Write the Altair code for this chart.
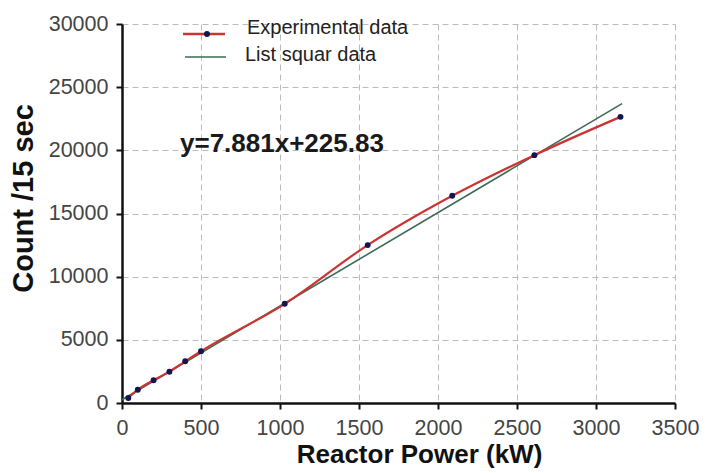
import altair as alt
import pandas as pd

# Experimental data (Reactor power kW, counts per 15 s)
exp_power = [40, 100, 200, 300, 400, 500, 1030, 1555, 2090, 2610, 3155]
exp_count = [400, 1050, 1800, 2480, 3300, 4100, 7850, 12500, 16400, 19620, 22650]

# Least-squares line endpoints as drawn
fit_power = [0, 3165]
fit_count = [260, 23700]

x_ticks = [0, 500, 1000, 1500, 2000, 2500, 3000, 3500]
y_ticks = [0, 5000, 10000, 15000, 20000, 25000, 30000]

legend_labels = ["Experimental data", "List squar data"]
equation = "y=7.881x+225.83"

exp_df = pd.DataFrame({"power": exp_power, "count": exp_count})
fit_df = pd.DataFrame({"power": fit_power, "count": fit_count})

FONT = "Liberation Sans"
RED = "#cc3333"
GREEN = "#3d6b52"
NAVY = "#141450"

xs = alt.Scale(domain=[0, 3500], nice=False)
ys = alt.Scale(domain=[0, 30000], nice=False)

xax = alt.Axis(values=x_ticks, format="d", title="Reactor Power (kW)",
               grid=True, gridDash=[6, 4], gridColor="#bbbbbb",
               domainColor="#111111", domainWidth=2.5, tickColor="#111111",
               tickSize=6, tickWidth=2, labelFontSize=21.5, labelColor="#444444",
               labelFont=FONT, labelPadding=8, titleFont=FONT,
               titleFontSize=26, titleFontWeight="bold", titleColor="#111111",
               titlePadding=3, titleX=297, titleAlign="center", labelFlush=False)
yax = alt.Axis(values=y_ticks, format="d", title="Count /15 sec",
               grid=True, gridDash=[6, 4], gridColor="#bbbbbb",
               domainColor="#111111", domainWidth=2.5, tickColor="#111111",
               tickSize=6, tickWidth=2, labelFontSize=21.5, labelColor="#444444",
               labelFont=FONT, labelPadding=8, titleFont=FONT,
               titleFontSize=29, titleFontWeight="bold", titleColor="#111111",
               titlePadding=10, titleY=174, titleAlign="center", labelFlush=False)

fit_line = alt.Chart(fit_df).mark_line(color=GREEN, strokeWidth=1.6).encode(
    x=alt.X("power:Q", scale=xs, axis=xax),
    y=alt.Y("count:Q", scale=ys, axis=yax),
)

exp_line = alt.Chart(exp_df).mark_line(color=RED, strokeWidth=2.2, interpolate="monotone").encode(
    x=alt.X("power:Q", scale=xs),
    y=alt.Y("count:Q", scale=ys),
)

exp_pts = alt.Chart(exp_df).mark_point(filled=True, color=NAVY, size=35, opacity=1).encode(
    x=alt.X("power:Q", scale=xs),
    y=alt.Y("count:Q", scale=ys),
)

leg_df = pd.DataFrame({"label": legend_labels})

leg_red = alt.Chart(leg_df.iloc[[0]]).mark_rule(color=RED, strokeWidth=2.5).encode(
    x=alt.value(61), x2=alt.value(103), y=alt.value(10))
leg_dot = alt.Chart(leg_df.iloc[[0]]).mark_point(filled=True, color=NAVY, size=35, opacity=1).encode(
    x=alt.value(85), y=alt.value(10))
leg_green = alt.Chart(leg_df.iloc[[1]]).mark_rule(color=GREEN, strokeWidth=1.6).encode(
    x=alt.value(63), x2=alt.value(104), y=alt.value(33))
leg_t1 = alt.Chart(leg_df.iloc[[0]]).mark_text(align="left", baseline="middle", font=FONT,
                                              fontSize=20, color="#222222").encode(
    x=alt.value(125), y=alt.value(4), text="label:N")
leg_t2 = alt.Chart(leg_df.iloc[[1]]).mark_text(align="left", baseline="middle", font=FONT,
                                              fontSize=20, color="#222222").encode(
    x=alt.value(123), y=alt.value(31), text="label:N")

eq_df = pd.DataFrame({"t": [equation]})
eq_text = alt.Chart(eq_df).mark_text(align="left", baseline="middle", font=FONT,
                                     fontSize=26, fontWeight="bold", color="#1a1a1a").encode(
    x=alt.value(58), y=alt.value(120), text="t:N")

chart = alt.layer(fit_line, exp_line, exp_pts, leg_red, leg_dot, leg_green, leg_t1, leg_t2, eq_text).properties(
    width=553, height=379,
    autosize=alt.AutoSizeParams(type="none"),
    padding={"left": 114, "top": 16, "right": 24, "bottom": 66},
    background="white",
).configure_view(stroke=None)

chart.save("out.html", embed_options={"renderer": "svg", "actions": False})
